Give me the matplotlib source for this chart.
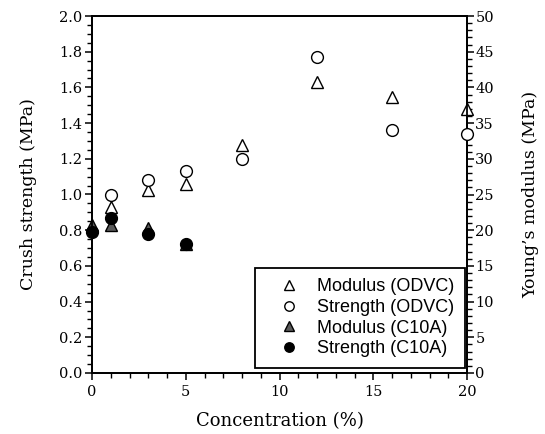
import matplotlib
matplotlib.use("Agg")
import matplotlib.pyplot as plt
from matplotlib.ticker import MultipleLocator

# Data
conc_odvc = [1, 3, 5, 8, 12, 16, 20]
strength_odvc = [1.00, 1.08, 1.13, 1.20, 1.77, 1.36, 1.34]
modulus_odvc = [23.3, 25.7, 26.5, 32.0, 40.7, 38.6, 37.0]

conc_c10a = [0, 1, 3, 5]
strength_c10a = [0.79, 0.87, 0.78, 0.72]
modulus_c10a = [20.7, 20.7, 20.3, 18.0]

W, H = 545, 434
fig = plt.figure(figsize=(W / 100, H / 100), dpi=100)
L, R, T, B = 92, 467, 16, 373
ax = fig.add_axes([L / W, 1 - B / H, (R - L) / W, (B - T) / H])
ax2 = ax.twinx()

serif = "DejaVu Serif"
tick_fs = 10.5
lab_fs = 12.5

ax.set_xlim(0, 20)
ax.set_ylim(0, 2.0)
ax2.set_ylim(0, 50)

ax.xaxis.set_major_locator(MultipleLocator(5))
ax.xaxis.set_minor_locator(MultipleLocator(1))
ax.yaxis.set_major_locator(MultipleLocator(0.2))
ax.yaxis.set_minor_locator(MultipleLocator(0.05))
ax2.yaxis.set_major_locator(MultipleLocator(5))
ax2.yaxis.set_minor_locator(MultipleLocator(1))

ax.yaxis.set_major_formatter(plt.FuncFormatter(lambda v, p: f"{v:.1f}"))

for a in (ax, ax2):
    for s in a.spines.values():
        s.set_linewidth(1.3)
        s.set_color("black")

ax.tick_params(axis="x", which="both", direction="out", top=False, pad=4)
ax.tick_params(axis="y", which="both", direction="out", right=False, pad=2)
ax.tick_params(which="major", length=5, width=1.1)
ax.tick_params(which="minor", length=3.5, width=1.0)
ax2.tick_params(axis="y", which="both", direction="out", pad=1.0)
ax2.tick_params(which="major", length=5, width=1.1)
ax2.tick_params(which="minor", length=3.5, width=1.0)

for lab in ax.get_xticklabels() + ax.get_yticklabels() + ax2.get_yticklabels():
    lab.set_fontfamily(serif)
    lab.set_fontsize(tick_fs)

ax.set_xlabel("Concentration (%)", fontfamily=serif, fontsize=lab_fs + 0.5, labelpad=9)
ax.set_ylabel("Crush strength (MPa)", fontfamily=serif, fontsize=lab_fs, labelpad=16)
ax2.set_ylabel("Young\u2019s modulus (MPa)", fontfamily=serif, fontsize=lab_fs, labelpad=20)

ms = 8.5
# Open ODVC markers
h1, = ax2.plot(conc_odvc, modulus_odvc, linestyle="none", marker="^", ms=ms + 0.5,
               mfc="white", mec="black", mew=1.0, clip_on=False, zorder=3,
               label="Modulus (ODVC)")
h2, = ax.plot(conc_odvc, strength_odvc, linestyle="none", marker="o", ms=ms,
              mfc="white", mec="black", mew=1.0, clip_on=False, zorder=3,
              label="Strength (ODVC)")
# Filled C10A markers
h3, = ax2.plot(conc_c10a, modulus_c10a, linestyle="none", marker="^", ms=ms + 0.5,
               mfc="#5a5a5a", mec="black", mew=1.0, clip_on=False, zorder=4,
               label="Modulus (C10A)")
h4, = ax.plot(conc_c10a, strength_c10a, linestyle="none", marker="o", ms=ms,
              mfc="black", mec="black", mew=1.0, clip_on=False, zorder=5,
              label="Strength (C10A)")
ax.set_zorder(ax2.get_zorder() + 1)
ax.patch.set_visible(False)

leg = ax.legend(handles=[h1, h2, h3, h4], loc="lower right",
                bbox_to_anchor=(465 / W, 1 - 368 / H), bbox_transform=fig.transFigure,
                borderaxespad=0, frameon=True, fancybox=False, edgecolor="black",
                prop={"family": "Liberation Sans", "size": 13},
                handlelength=2.6, handletextpad=0.25, borderpad=0.6,
                labelspacing=0.2, markerscale=0.8, framealpha=1)
leg.get_frame().set_linewidth(1.3)
leg.set_zorder(10)

fig.savefig("out.png", dpi=100)
